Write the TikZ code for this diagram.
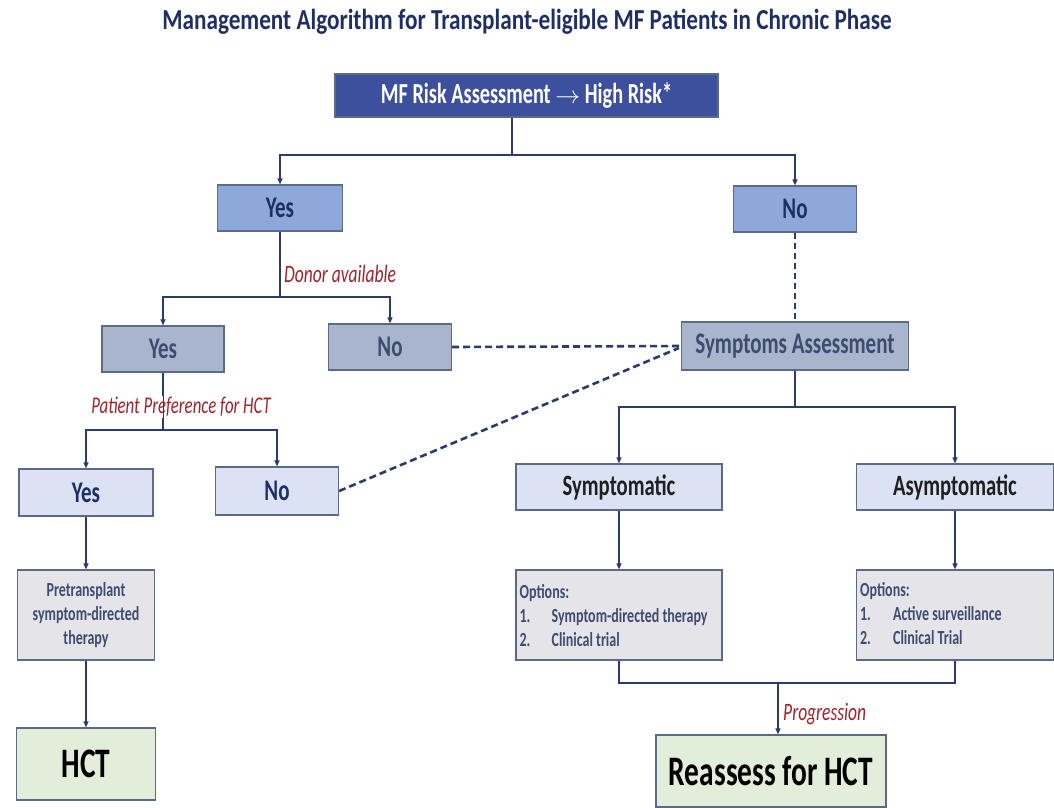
\documentclass[tikz,border=0pt]{standalone}
\usepackage{fontspec}
\setmainfont{Carlito}[FakeStretch=0.7]
\newfontfamily\titlefont{Carlito}[FakeStretch=0.8]
\usetikzlibrary{arrows.meta,calc}
\definecolor{titlec}{HTML}{1F2F66}
\definecolor{topfill}{HTML}{3D509E}
\definecolor{midfill}{HTML}{8FA8DB}
\definecolor{greyblue}{HTML}{A9B5CC}
\definecolor{lightblue}{HTML}{DAE2F3}
\definecolor{greyfill}{HTML}{E5E5E9}
\definecolor{greenfill}{HTML}{E2EED9}
\definecolor{boxline}{HTML}{5B6A86}
\definecolor{linec}{HTML}{2C3C6A}
\definecolor{slate}{HTML}{3C4D70}
\definecolor{redlab}{HTML}{A3222A}
\begin{document}
\begin{tikzpicture}[x=1pt,y=-1pt,
  box/.style={draw=boxline, line width=1.2pt, inner sep=0pt, font=\bfseries},
  lvlone/.style={box, fill=midfill, text=titlec, font=\bfseries\fontsize{30}{32}\selectfont},
  lvltwo/.style={box, fill=greyblue, text=slate, font=\bfseries\fontsize{30}{32}\selectfont},
  lvlthree/.style={box, fill=lightblue, text=titlec, font=\bfseries\fontsize{30}{32}\selectfont},
  optbox/.style={box, fill=greyfill, text=slate},
  finalbox/.style={box, fill=greenfill, text=black, font=\bfseries\fontsize{42}{44}\selectfont},
  conn/.style={draw=linec, line width=1.1pt},
  arr/.style={conn, -{Triangle[length=6pt,width=5pt]}},
  thickdash/.style={draw=linec, line width=2.6pt, dash pattern=on 7pt off 4pt},
  thindash/.style={draw=linec, line width=1.1pt, dash pattern=on 6pt off 4pt},
  redlabel/.style={text=redlab, font=\itshape\fontsize{25}{28}\selectfont, inner sep=0pt}
]
\useasboundingbox[fill=white] (0,0) rectangle (1054,807);

\node[font=\titlefont\bfseries\fontsize{29}{32}\selectfont, text=titlec] (title) at (527,22)
  {Management Algorithm for Transplant-eligible MF Patients in Chronic Phase};

\node[box, fill=topfill, text=white, minimum width=383pt, minimum height=43pt,
  font=\bfseries\fontsize{29}{30}\selectfont] (top) at (526.5,95.5)
  {MF Risk Assessment $\rightarrow$ High Risk*};

% level 1
\node[lvlone, minimum width=125pt, minimum height=46pt] (yes1) at (280,208) {Yes};
\node[lvlone, minimum width=123pt, minimum height=46pt] (no1) at (795,209) {No};

% level 2
\node[lvltwo, minimum width=122pt, minimum height=46pt] (yes2) at (163,349) {Yes};
\node[lvltwo, minimum width=123pt, minimum height=46pt] (no2) at (390,347) {No};
\node[lvltwo, minimum width=227pt, minimum height=48pt] (sa) at (795,346) {Symptoms Assessment};

% level 3 left
\node[lvlthree, minimum width=134pt, minimum height=47pt] (yes3) at (86,492.5) {Yes};
\node[lvlthree, minimum width=123pt, minimum height=48pt] (no3) at (277,491) {No};
\node[optbox, minimum width=137pt, minimum height=90pt, align=center,
  font=\bfseries\fontsize{20}{24}\selectfont] (pre) at (86,615)
  {Pretransplant\\symptom-directed\\therapy};
\node[finalbox, minimum width=139pt, minimum height=72pt] (hct) at (86,764) {HCT};

% level 3 right
\node[lvlthree, text=black!88, minimum width=206pt, minimum height=46pt,
  font=\bfseries\fontsize{29.5}{32}\selectfont] (symp) at (619,487) {Symptomatic};
\node[lvlthree, text=black!88, minimum width=197pt, minimum height=46pt,
  font=\bfseries\fontsize{29.5}{32}\selectfont] (asym) at (955,487) {Asymptomatic};
\node[optbox, minimum width=206pt, minimum height=90pt] (opt1) at (619,615) {};
\node[optbox, minimum width=197pt, minimum height=90pt] (opt2) at (955,615) {};
\node[anchor=north west, inner sep=0pt, text=slate, font=\bfseries\fontsize{20}{24}\selectfont]
  (opt1t) at ($(opt1.north west)+(4,12)$)
  {\begin{tabular}{@{}p{32pt}@{}l@{}}\multicolumn{2}{@{}l@{}}{Options:}\\ 1. & Symptom-directed therapy\\ 2. & Clinical trial\end{tabular}};
\node[anchor=north west, inner sep=0pt, text=slate, font=\bfseries\fontsize{20}{24}\selectfont]
  (opt2t) at ($(opt2.north west)+(4,10)$)
  {\begin{tabular}{@{}p{33pt}@{}l@{}}\multicolumn{2}{@{}l@{}}{Options:}\\ 1. & Active surveillance\\ 2. & Clinical Trial\end{tabular}};
\node[finalbox, minimum width=230pt, minimum height=72pt] (re) at (771,771) {Reassess for HCT};

% connectors: top split
\coordinate (j1) at (512,155);
\draw[conn] (top.south -| j1) -- (j1);
\draw[arr] (j1) -| (yes1.north);
\draw[arr] (j1) -| (no1.north);

% donor available
\coordinate (j2) at (280,297);
\draw[conn] (yes1.south) -- (j2);
\draw[arr] (j2) -| (yes2.north);
\draw[arr] (j2) -| (no2.north);
\node[redlabel, anchor=west] (donor) at (284,274) {Donor available};

% patient preference
\coordinate (j3) at (163,430);
\draw[conn] (yes2.south) -- (j3);
\draw[arr] (j3) -| (yes3.north);
\draw[arr] (j3) -| (no3.north);
\node[redlabel, fill=white, inner sep=1pt, font=\itshape\fontsize{24}{26}\selectfont] (pref) at (181,407) {Patient Preference for HCT};
\draw[conn, line width=0.6pt] (pref.north -| j3) -- (pref.south -| j3);

% left column
\draw[arr] (yes3.south) -- (pre.north);
\draw[arr] (pre.south) -- (hct.north);

% dashed links
\draw[thindash] (no1.south) -- (sa.north);
\draw[thickdash] (no2.east) -- (sa.west);
\draw[thickdash] (no3.east) -- ($(sa.west)+(-2,2)$);

% symptoms split
\coordinate (j4) at (795,407);
\draw[conn] (sa.south) -- (j4);
\draw[arr] (j4) -| (symp.north);
\draw[arr] (j4) -| (asym.north);
\draw[arr] (symp.south) -- (opt1.north);
\draw[arr] (asym.south) -- (opt2.north);

% merge and progression
\coordinate (j5) at (778,683);
\draw[conn] (opt1.south) |- (j5) -| (opt2.south);
\draw[arr] (j5) -- (re.north -| j5);
\node[redlabel, anchor=west] (prog) at (783,714) {Progression};
\end{tikzpicture}
\end{document}
